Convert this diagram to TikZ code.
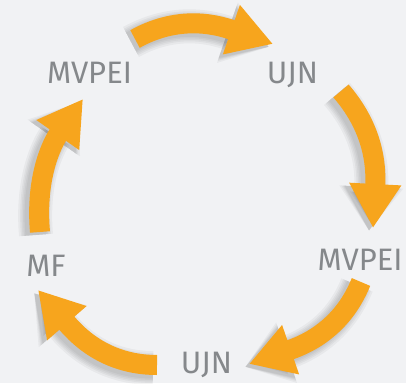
\documentclass[tikz,border=0pt]{standalone}
\usepackage{fontspec}
\setmainfont{Fira Sans}
\usetikzlibrary{arrows.meta}
\definecolor{cycleorange}{HTML}{F7A51D}
\definecolor{labelgray}{HTML}{85888B}
\definecolor{paper}{HTML}{F1F2F4}
\begin{document}
\begin{tikzpicture}[x=1pt, y=1pt,
	stage/.style={anchor=base, inner sep=0pt, text=labelgray, font=\fontsize{31}{31}\selectfont},
	flow/.style={draw=cycleorange, line width=20pt, -{Triangle[width=49pt,length=44pt]}},
	flow shadow/.style={draw=black, opacity=0.04, transform canvas={shift={(-4pt,-3pt)}}}]

	% Background
	\fill[paper] (0,0) rectangle (406,383);

	% Stages
	\node[stage] (mvpeiA) at (89.5,299) {MVPEI};
	\node[stage] (ujnA) at (292.5,299) {UJN};
	\node[stage] (mvpeiB) at (360,113) {MVPEI};
	\node[stage] (ujnB) at (206.5,10) {UJN};
	\node[stage] (mf) at (46,107) {MF};

	% Arrow ends
	\coordinate (t1) at (135,344); \coordinate (h1) at (273,339);
	\coordinate (t2) at (341,292); \coordinate (h2) at (373,155);
	\coordinate (t3) at (361,101); \coordinate (h3) at (249,19);
	\coordinate (t4) at (157,18);  \coordinate (h4) at (38,93);
	\coordinate (t5) at (40,151);  \coordinate (h5) at (83,284);

	% Arrows
	\foreach \tail/\lv/\ar/\tip in {t1/29/161/h1, t2/-49/87/h2, t3/-112/19/h3, t4/180/-49/h4, t5/95/235/h5} {
		\foreach \w/\h in {34/61, 30/57, 27/54, 24/52, 21/50}
			\draw[flow shadow, line width=\w pt, -{Triangle[width=\h pt,length=44pt]}] (\tail) to[out=\lv,in=\ar] (\tip);
		\draw[flow] (\tail) to[out=\lv,in=\ar] (\tip);
	}
\end{tikzpicture}
\end{document}
